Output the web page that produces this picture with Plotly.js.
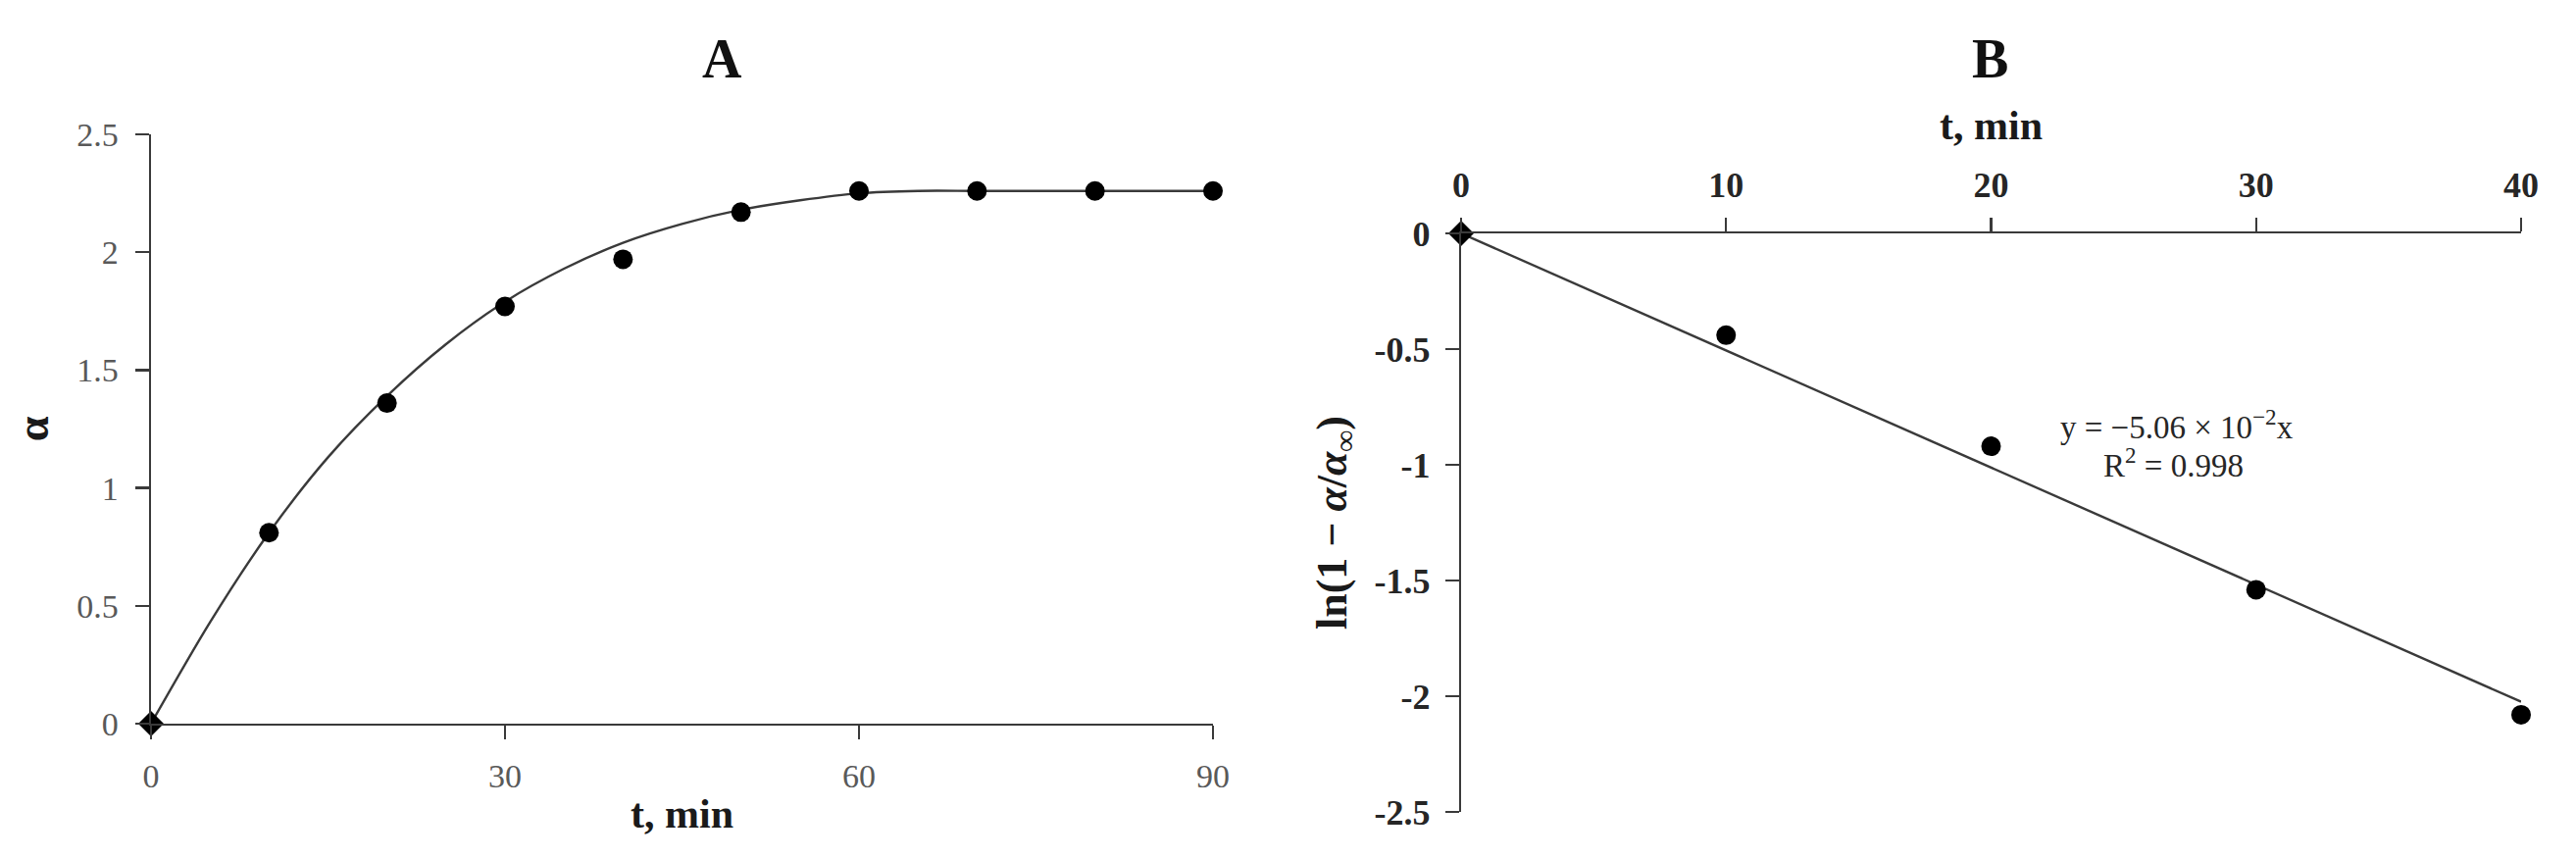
<!DOCTYPE html>
<html>
<head>
<meta charset="utf-8">
<script src="https://cdn.plot.ly/plotly-3.0.1.min.js"></script>
<style>html,body{margin:0;padding:0;background:#fff;}#chart{width:2627px;height:875px;}</style>
</head>
<body>
<div id="chart"></div>
<script>
// ---- Panel A data ----
const timeA = [0, 10, 20, 30, 40, 50, 60, 70, 80, 90];
const alphaA = [0, 0.81, 1.36, 1.77, 1.97, 2.17, 2.26, 2.26, 2.26, 2.26];
const curveT = [0, 5, 10, 15, 20, 25, 30, 35, 40, 45, 50, 55, 60, 65, 70, 80, 90];
const curveA = [0, 0.43, 0.81, 1.13, 1.39, 1.61, 1.79, 1.93, 2.04, 2.12, 2.18, 2.22, 2.25, 2.26, 2.26, 2.26, 2.26];
const symbolsA = ['diamond', 'circle', 'circle', 'circle', 'circle', 'circle', 'circle', 'circle', 'circle', 'circle'];
const xTicksA = [0, 30, 60, 90];
const yTicksA = [0, 0.5, 1, 1.5, 2, 2.5];
const yTickTextA = ['0', '0.5', '1', '1.5', '2', '2.5'];

// ---- Panel B data ----
const timeB = [0, 10, 20, 30, 40];
const lnB = [0, -0.44, -0.92, -1.54, -2.08];
const fitT = [0, 40];
const fitB = [0, -2.024];
const symbolsB = ['diamond', 'circle', 'circle', 'circle', 'circle'];
const xTicksB = [0, 10, 20, 30, 40];
const yTicksB = [-2.5, -2, -1.5, -1, -0.5, 0];
const yTickTextB = ['-2.5', '-2', '-1.5', '-1', '-0.5', '0'];
const eqLine1 = 'y = −5.06 × 10<sup>−2</sup>x';
const eqLine2 = 'R<sup>2</sup> = 0.998';

const SERIF = 'Liberation Serif, DejaVu Serif, serif';
const LINE = '#3a3a3a';

const traces = [
  {x: curveT, y: curveA, xaxis: 'x', yaxis: 'y', mode: 'lines', line: {color: LINE, width: 2.4, shape: 'spline', smoothing: 0.8}, hoverinfo: 'skip', cliponaxis: false},
  {x: timeA, y: alphaA, xaxis: 'x', yaxis: 'y', mode: 'markers', marker: {color: '#000', size: 20, symbol: symbolsA, line: {width: 0}}, cliponaxis: false},
  {x: fitT, y: fitB, xaxis: 'x2', yaxis: 'y2', mode: 'lines', line: {color: LINE, width: 2.4}, hoverinfo: 'skip', cliponaxis: false},
  {x: timeB, y: lnB, xaxis: 'x2', yaxis: 'y2', mode: 'markers', marker: {color: '#000', size: 20, symbol: symbolsB, line: {width: 0}}, cliponaxis: false}
];

const axCommon = {
  showline: true, linecolor: LINE, linewidth: 2.4, mirror: false,
  ticks: 'outside', ticklen: 14, tickwidth: 2.4, tickcolor: LINE,
  showgrid: false, zeroline: false, fixedrange: true
};
const tickFontA = {family: SERIF, size: 34, color: '#595959'};
const tickFontB = {family: SERIF, size: 36, color: '#262626', weight: 'bold'};

const layout = {
  width: 2627, height: 875,
  margin: {l: 0, r: 0, t: 0, b: 0},
  paper_bgcolor: '#fff', plot_bgcolor: '#fff',
  showlegend: false,
  font: {family: SERIF, color: '#1a1a1a'},
  xaxis: Object.assign({}, axCommon, {
    domain: [0.05862, 0.47088], range: [0, 90], anchor: 'y',
    tickmode: 'array', tickvals: xTicksA,
    tickfont: tickFontA, ticklabelstandoff: 8,
    title: {text: '<b>t, min</b>', font: {family: SERIF, size: 42, color: '#1a1a1a'}, standoff: 6}
  }),
  yaxis: Object.assign({}, axCommon, {
    domain: [0.15657, 0.84343], range: [0, 2.5], anchor: 'x',
    tickmode: 'array', tickvals: yTicksA, ticktext: yTickTextA,
    tickfont: tickFontA, ticklabelstandoff: 10,
    title: {text: '<b>α</b>', font: {family: SERIF, size: 46, color: '#1a1a1a'}, standoff: 14}
  }),
  xaxis2: Object.assign({}, axCommon, {
    domain: [0.56719, 0.97868], range: [0, 40], anchor: 'y2', side: 'top',
    tickmode: 'array', tickvals: xTicksB,
    tickfont: tickFontB, ticklabelstandoff: 6,
    title: {text: '<b>t, min</b>', font: {family: SERIF, size: 42, color: '#1a1a1a'}, standoff: 14}
  }),
  yaxis2: Object.assign({}, axCommon, {
    domain: [0.05371, 0.728], range: [-2.5, 0], anchor: 'x2',
    tickmode: 'array', tickvals: yTicksB, ticktext: yTickTextB,
    tickfont: tickFontB, ticklabelstandoff: 8,
    title: {text: '<b>ln(1 − <i>α</i>/<i>α</i><sub>∞</sub>)</b>', font: {family: SERIF, size: 44, color: '#1a1a1a'}, standoff: 14}
  }),
  annotations: [
    {text: '<b>A</b>', xref: 'paper', yref: 'paper', x: 0.2805, y: 0.9314, xanchor: 'center', yanchor: 'middle', showarrow: false, font: {family: SERIF, size: 56, color: '#111'}},
    {text: '<b>B</b>', xref: 'paper', yref: 'paper', x: 0.7727, y: 0.9314, xanchor: 'center', yanchor: 'middle', showarrow: false, font: {family: SERIF, size: 56, color: '#111'}},
    {text: eqLine1, xref: 'x2', yref: 'y2', x: 27.0, y: -0.826, xanchor: 'center', yanchor: 'middle', showarrow: false, font: {family: SERIF, size: 33, color: '#262626'}},
    {text: eqLine2, xref: 'x2', yref: 'y2', x: 26.9, y: -0.99, xanchor: 'center', yanchor: 'middle', showarrow: false, font: {family: SERIF, size: 33, color: '#262626'}}
  ]
};

Plotly.newPlot('chart', traces, layout, {staticPlot: true, displayModeBar: false});
</script>
</body>
</html>
